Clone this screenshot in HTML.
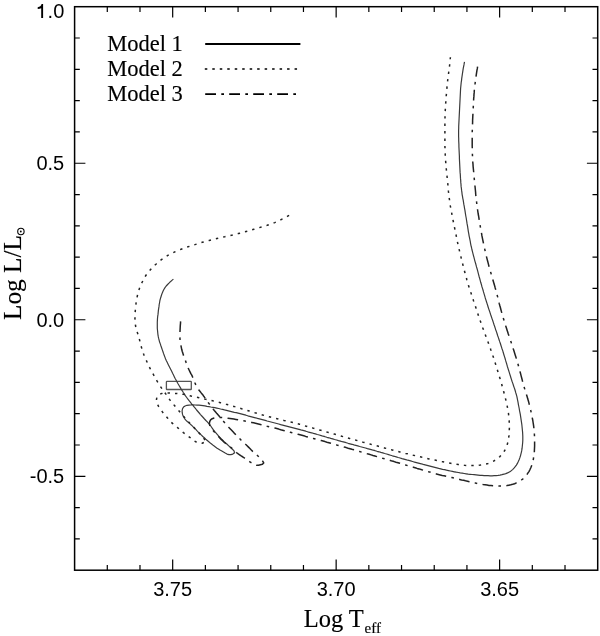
<!DOCTYPE html>
<html><head><meta charset="utf-8"><style>
html,body{margin:0;padding:0;background:#fff;}
body{width:600px;height:636px;overflow:hidden;position:relative;}
svg{position:absolute;left:0;top:0;filter:grayscale(1);}
.tl{font-family:"Liberation Sans",sans-serif;font-size:20px;fill:#000;}
.sf{font-family:"Liberation Serif",serif;fill:#000;stroke:#000;stroke-width:0.15px;}
</style></head><body>
<svg width="600" height="636" viewBox="0 0 600 636">
<g fill="none" stroke="#000" stroke-width="1.2">
<path d="M107.29 570.20 V565.00 M107.29 6.70 V11.90 M139.99 570.20 V565.00 M139.99 6.70 V11.90 M172.68 570.20 V559.40 M172.68 6.70 V17.50 M205.38 570.20 V565.00 M205.38 6.70 V11.90 M238.07 570.20 V565.00 M238.07 6.70 V11.90 M270.76 570.20 V565.00 M270.76 6.70 V11.90 M303.46 570.20 V565.00 M303.46 6.70 V11.90 M336.15 570.20 V559.40 M336.15 6.70 V17.50 M368.84 570.20 V565.00 M368.84 6.70 V11.90 M401.54 570.20 V565.00 M401.54 6.70 V11.90 M434.23 570.20 V565.00 M434.23 6.70 V11.90 M466.93 570.20 V565.00 M466.93 6.70 V11.90 M499.62 570.20 V559.40 M499.62 6.70 V17.50 M532.31 570.20 V565.00 M532.31 6.70 V11.90 M565.01 570.20 V565.00 M565.01 6.70 V11.90 M74.60 38.01 H79.80 M597.70 38.01 H592.50 M74.60 69.31 H79.80 M597.70 69.31 H592.50 M74.60 100.62 H79.80 M597.70 100.62 H592.50 M74.60 131.92 H79.80 M597.70 131.92 H592.50 M74.60 163.23 H85.40 M597.70 163.23 H586.90 M74.60 194.53 H79.80 M597.70 194.53 H592.50 M74.60 225.84 H79.80 M597.70 225.84 H592.50 M74.60 257.14 H79.80 M597.70 257.14 H592.50 M74.60 288.45 H79.80 M597.70 288.45 H592.50 M74.60 319.76 H85.40 M597.70 319.76 H586.90 M74.60 351.06 H79.80 M597.70 351.06 H592.50 M74.60 382.37 H79.80 M597.70 382.37 H592.50 M74.60 413.67 H79.80 M597.70 413.67 H592.50 M74.60 444.98 H79.80 M597.70 444.98 H592.50 M74.60 476.28 H85.40 M597.70 476.28 H586.90 M74.60 507.59 H79.80 M597.70 507.59 H592.50 M74.60 538.89 H79.80 M597.70 538.89 H592.50"/>
</g>
<rect x="74.60" y="6.70" width="523.10" height="563.50" fill="none" stroke="#000" stroke-width="1.5"/>
<g class="tl" text-anchor="end">
<text x="64.3" y="18.3">.0</text>
<text x="64.2" y="169.6">0.5</text>
<text x="64.2" y="326.5">0.0</text>
<text x="64.2" y="483.2">-0.5</text>
</g>
<path d="M37.7 7.2 C39.8 6.9 41.2 6.1 41.6 4.1 L43.1 4.1 L43.1 18.1 L41.2 18.1 L41.2 8.3 C40.3 8.8 39.1 9 37.7 9 Z" fill="#000"/>
<g class="tl" text-anchor="middle">
<text x="172.6" y="595.8">3.75</text>
<text x="336.1" y="595.8">3.70</text>
<text x="499.6" y="595.8">3.65</text>
</g>
<text class="sf" font-size="24.5" x="303.7" y="626.7">Log T</text><text class="sf" font-size="15" x="364.6" y="632.5">eff</text>
<g transform="translate(21,320) rotate(-90)">
<text class="sf" font-size="25.3" x="0" y="0">Log L/L</text>
</g>
<circle cx="20.9" cy="231.5" r="3.2" fill="none" stroke="#000" stroke-width="1.1"/><circle cx="20.8" cy="231.5" r="0.9" fill="#000"/>
<g transform="translate(107.2,50.5) scale(1,1.03)"><text class="sf" font-size="22.5" x="0" y="0">Model 1</text></g>
<g transform="translate(107.2,75.5) scale(1,1.03)"><text class="sf" font-size="22.5" x="0" y="0">Model 2</text></g>
<g transform="translate(107.2,100.6) scale(1,1.03)"><text class="sf" font-size="22.5" x="0" y="0">Model 3</text></g>
<g fill="none" stroke="#000" stroke-width="1.6">
<path d="M205.2 44 H300.4" stroke-width="1.85"/>
<path d="M204.8 69 H297.1" stroke-dasharray="2.5 4.98"/>
<path d="M205.2 94.1 H297" stroke-dasharray="10.8 5.3 2.7 5.2"/>
</g>
<rect x="166.4" y="381.4" width="24.9" height="8.1" rx="0.6" fill="none" stroke="#555" stroke-width="1.3"/>
<g fill="none" stroke="#222" stroke-width="1.2" stroke-linejoin="round">
<path d="M173.4 279.1L171.9 280.4 170.4 281.7 169.0 283.1 167.6 284.5 166.2 286.0 165.0 287.6 164.0 289.3 163.1 291.1 162.3 292.9 161.6 294.8 161.0 296.7 160.4 298.6 159.9 300.5 159.6 302.5 159.2 304.5 159.0 306.4 158.7 308.4 158.4 310.4 158.2 312.4 158.0 314.4 157.7 316.3 157.5 318.3 157.4 320.3 157.3 322.3 157.3 324.3 157.3 326.3 157.3 328.3 157.5 330.3 157.7 332.3 157.9 334.3 158.2 336.2 158.6 338.2 159.1 340.1 159.6 342.0 160.3 343.9 160.9 345.8 161.6 347.7 162.2 349.6 162.9 351.5 163.5 353.4 164.2 355.3 164.9 357.1 165.6 359.0 166.4 360.8 167.3 362.6 168.2 364.4 169.1 366.2 170.0 368.0 170.9 369.8 171.8 371.6 172.6 373.3 173.5 375.1 174.4 376.9 175.3 378.7 176.3 380.5 177.2 382.2 178.2 384.0 179.2 385.7 180.2 387.4 181.2 389.1 182.3 390.8 183.3 392.5 184.4 394.2 185.5 395.9 186.7 397.5 187.9 399.1 189.1 400.7 190.3 402.2 191.6 403.8 192.9 405.3 194.1 406.9 195.4 408.4 196.6 410.0 197.9 411.5 199.2 413.0 200.5 414.6 201.8 416.0 203.2 417.5 204.5 419.0 205.9 420.5 207.3 421.9 208.6 423.4 209.9 424.9 211.1 426.5 212.2 428.2 213.4 429.8 214.6 431.4 215.9 432.9 217.2 434.4 218.5 435.9 219.9 437.3 221.3 438.8 222.7 440.2 224.1 441.6 225.6 442.9 227.1 444.3 228.5 445.6 230.0 447.0 231.5 448.4 232.9 449.7 234.2 451.2 234.4 452.9 232.8 454.1 230.9 454.6 228.9 454.6 227.0 454.1 225.2 453.1 223.5 452.1 221.8 451.1 220.0 450.1 218.4 449.0 216.7 447.9 215.1 446.7 213.5 445.6 211.9 444.3 210.3 443.1 208.8 441.8 207.3 440.5 205.8 439.2 204.3 437.8 202.8 436.5 201.4 435.1 199.9 433.7 198.5 432.3 197.1 430.9 195.8 429.4 194.4 428.0 192.9 426.6 191.5 425.2 190.0 423.9 188.5 422.6 187.0 421.3 185.6 419.8 184.4 418.3 183.4 416.5 182.6 414.7 182.2 412.7 182.1 410.8 182.5 408.8 183.5 407.1 185.1 406.0 187.0 405.3 189.0 405.1 191.0 405.0 193.0 404.9 195.0 405.0 197.0 405.1 199.0 405.2 201.0 405.4 203.0 405.6 204.9 405.9 206.9 406.3 208.9 406.6 210.8 407.0 212.8 407.3 214.8 407.7 216.7 408.1 218.7 408.5 220.6 409.0 222.6 409.4 224.5 409.9 226.5 410.3 228.4 410.8 230.4 411.3 232.3 411.8 234.3 412.3 236.2 412.7 238.1 413.2 240.1 413.7 242.0 414.2 243.9 414.7 245.9 415.2 247.8 415.8 249.7 416.3 251.7 416.8 253.6 417.3 255.5 417.8 257.5 418.4 259.4 418.9 261.3 419.4 263.3 419.9 265.2 420.4 267.1 421.0 269.1 421.5 271.0 422.0 272.9 422.5 274.9 423.0 276.8 423.5 278.7 424.0 280.7 424.6 282.6 425.1 284.5 425.6 286.5 426.1 288.4 426.6 290.3 427.1 292.3 427.6 294.2 428.1 296.1 428.6 298.1 429.1 300.0 429.6 301.9 430.2 303.9 430.7 305.8 431.2 307.7 431.8 309.6 432.3 311.6 432.8 313.5 433.4 315.4 433.9 317.3 434.5 319.3 435.0 321.2 435.6 323.1 436.2 325.0 436.7 326.9 437.3 328.9 437.8 330.8 438.4 332.7 438.9 334.6 439.5 336.6 440.0 338.5 440.6 340.4 441.1 342.3 441.7 344.3 442.2 346.2 442.7 348.1 443.3 350.0 443.8 352.0 444.3 353.9 444.9 355.8 445.4 357.8 445.9 359.7 446.5 361.6 447.0 363.5 447.5 365.5 448.0 367.4 448.6 369.3 449.1 371.3 449.6 373.2 450.2 375.1 450.7 377.0 451.3 379.0 451.8 380.9 452.4 382.8 452.9 384.7 453.5 386.6 454.0 388.6 454.6 390.5 455.2 392.4 455.8 394.3 456.3 396.2 456.9 398.2 457.5 400.1 458.0 402.0 458.6 403.9 459.1 405.8 459.6 407.8 460.2 409.7 460.7 411.6 461.2 413.6 461.8 415.5 462.3 417.4 462.8 419.4 463.3 421.3 463.8 423.2 464.4 425.1 464.9 427.1 465.4 429.0 465.9 430.9 466.4 432.9 466.9 434.8 467.4 436.8 467.9 438.7 468.4 440.7 468.8 442.6 469.3 444.6 469.7 446.5 470.2 448.5 470.6 450.4 471.0 452.4 471.4 454.3 471.8 456.3 472.2 458.3 472.5 460.2 472.9 462.2 473.2 464.2 473.5 466.2 473.8 468.2 474.1 470.1 474.3 472.1 474.5 474.1 474.7 476.1 474.9 478.1 475.1 480.1 475.3 482.1 475.4 484.1 475.6 486.1 475.7 488.1 475.7 490.1 475.8 492.1 475.8 494.1 475.7 496.1 475.6 498.0 475.4 500.0 475.1 502.0 474.7 503.9 474.2 505.8 473.6 507.6 472.9 509.4 472.0 511.0 470.9 512.6 469.6 514.0 468.2 515.2 466.7 516.4 465.1 517.4 463.4 518.3 461.6 519.1 459.8 519.8 457.9 520.4 456.0 520.9 454.1 521.4 452.1 521.8 450.2 522.1 448.2 522.3 446.2 522.5 444.2 522.7 442.2 522.8 440.2 522.8 438.2 522.8 436.2 522.7 434.2 522.6 432.3 522.4 430.3 522.2 428.3 522.0 426.3 521.8 424.3 521.5 422.3 521.2 420.3 520.9 418.4 520.6 416.4 520.3 414.4 519.9 412.4 519.5 410.5 519.2 408.5 518.8 406.5 518.4 404.6 518.1 402.6 517.7 400.6 517.3 398.7 516.9 396.7 516.4 394.8 515.8 392.9 515.3 391.0 514.7 389.0 514.0 387.1 513.4 385.2 512.8 383.4 512.1 381.5 511.5 379.6 510.9 377.7 510.3 375.8 509.7 373.9 509.1 371.9 508.5 370.0 507.9 368.1 507.3 366.2 506.8 364.3 506.2 362.4 505.6 360.4 505.1 358.5 504.5 356.6 503.9 354.7 503.3 352.8 502.8 350.9 502.1 349.0 501.5 347.1 500.9 345.2 500.3 343.3 499.6 341.4 499.0 339.5 498.4 337.6 497.7 335.7 497.1 333.8 496.5 331.9 495.8 330.0 495.2 328.1 494.6 326.2 493.9 324.3 493.3 322.4 492.7 320.5 492.0 318.6 491.4 316.7 490.7 314.8 490.1 312.9 489.5 311.0 488.8 309.1 488.2 307.2 487.6 305.3 487.0 303.4 486.4 301.5 485.8 299.6 485.2 297.7 484.7 295.8 484.1 293.8 483.5 291.9 483.0 290.0 482.4 288.1 481.8 286.2 481.3 284.2 480.7 282.3 480.2 280.4 479.7 278.5 479.1 276.5 478.6 274.6 478.1 272.7 477.6 270.7 477.1 268.8 476.5 266.9 476.0 264.9 475.5 263.0 474.9 261.1 474.4 259.2 473.9 257.2 473.4 255.3 472.9 253.4 472.4 251.4 471.9 249.5 471.5 247.5 471.0 245.6 470.6 243.6 470.3 241.6 469.9 239.7 469.5 237.7 469.1 235.8 468.8 233.8 468.4 231.8 468.1 229.8 467.8 227.9 467.5 225.9 467.1 223.9 466.8 221.9 466.5 220.0 466.2 218.0 465.8 216.0 465.5 214.1 465.2 212.1 464.9 210.1 464.5 208.1 464.2 206.2 463.8 204.2 463.5 202.2 463.2 200.2 462.8 198.3 462.5 196.3 462.1 194.3 461.9 192.4 461.6 190.4 461.4 188.4 461.1 186.4 461.0 184.4 460.8 182.4 460.7 180.4 460.5 178.4 460.4 176.4 460.3 174.4 460.1 172.4 460.0 170.4 459.9 168.4 459.8 166.4 459.7 164.4 459.6 162.4 459.5 160.4 459.4 158.5 459.4 156.5 459.3 154.5 459.2 152.5 459.1 150.5 459.0 148.5 458.9 146.5 458.9 144.5 458.8 142.5 458.7 140.5 458.7 138.5 458.6 136.5 458.6 134.5 458.6 132.5 458.6 130.5 458.7 128.5 458.7 126.5 458.8 124.5 458.9 122.5 459.0 120.5 459.1 118.5 459.2 116.5 459.3 114.5 459.4 112.5 459.5 110.5 459.6 108.5 459.7 106.5 459.8 104.5 459.9 102.5 460.0 100.5 460.1 98.5 460.2 96.5 460.3 94.5 460.4 92.5 460.5 90.5 460.6 88.5 460.8 86.5 461.0 84.5 461.2 82.5 461.5 80.6 461.7 78.6 462.0 76.6 462.3 74.6 462.6 72.6 462.9 70.7 463.2 68.7 463.6 66.7 464.0 64.7 464.3 62.8 464.5 61.8" stroke="#3a3a3a"/>
<path d="M289.1 215.4L287.3 216.4 285.5 217.4 283.8 218.3 282.0 219.2 280.2 220.1 278.4 221.0 276.6 221.8 274.7 222.6 272.9 223.3 271.0 224.0 269.1 224.6 267.2 225.3 265.3 225.8 263.4 226.4 261.4 227.0 259.5 227.6 257.6 228.1 255.7 228.7 253.8 229.3 251.9 229.9 249.9 230.4 248.0 231.0 246.1 231.5 244.1 232.0 242.2 232.6 240.3 233.1 238.3 233.6 236.4 234.1 234.5 234.5 232.5 235.0 230.5 235.4 228.6 235.8 226.6 236.2 224.7 236.7 222.7 237.1 220.8 237.6 218.8 238.0 216.9 238.5 214.9 239.0 213.0 239.5 211.0 240.0 209.1 240.5 207.2 241.0 205.2 241.5 203.3 242.1 201.4 242.6 199.5 243.2 197.6 243.8 195.7 244.4 193.8 245.0 191.8 245.6 189.9 246.2 188.0 246.8 186.1 247.5 184.2 248.1 182.4 248.8 180.5 249.5 178.6 250.3 176.8 251.0 174.9 251.8 173.1 252.7 171.3 253.5 169.5 254.4 167.8 255.4 166.1 256.5 164.4 257.5 162.8 258.7 161.1 259.9 159.6 261.1 158.0 262.3 156.5 263.7 155.0 265.0 153.6 266.4 152.2 267.8 150.8 269.3 149.5 270.8 148.2 272.3 147.0 273.9 145.8 275.5 144.8 277.2 143.8 279.0 142.9 280.7 142.0 282.5 141.1 284.3 140.3 286.2 139.6 288.0 138.9 289.9 138.3 291.8 137.8 293.7 137.4 295.7 137.0 297.7 136.6 299.6 136.3 301.6 136.0 303.6 135.8 305.6 135.6 307.6 135.4 309.6 135.2 311.6 135.1 313.6 135.0 315.6 135.0 317.6 134.9 319.6 135.0 321.5 135.2 323.5 135.5 325.5 135.9 327.5 136.4 329.4 137.0 331.3 137.6 333.2 138.2 335.1 138.8 337.0 139.3 339.0 139.8 340.9 140.3 342.8 140.8 344.8 141.3 346.7 141.8 348.6 142.4 350.6 143.0 352.5 143.7 354.3 144.5 356.2 145.3 358.0 146.1 359.9 146.9 361.7 147.7 363.5 148.5 365.3 149.4 367.2 150.3 368.9 151.2 370.7 152.2 372.5 153.2 374.2 154.2 375.9 155.2 377.7 156.1 379.4 157.1 381.2 158.2 382.9 159.2 384.6 160.3 386.3 161.4 387.9 162.6 389.6 163.7 391.2 164.9 392.8 166.1 394.4 167.2 396.1 168.3 397.7 169.5 399.4 170.7 400.9 172.0 402.5 173.3 404.0 174.5 405.6 175.8 407.1 177.1 408.7 178.4 410.2 179.7 411.7 180.9 413.3 182.2 414.8 183.5 416.3 184.9 417.8 186.2 419.3 187.6 420.8 188.9 422.2 190.3 423.7 191.7 425.2 193.0 426.6 194.4 428.1 195.8 429.6 197.1 431.0 198.5 432.5 199.9 433.9 201.2 435.4 202.6 436.9 203.8 438.4 205.0 440.1 205.2 441.0" stroke-dasharray="2.4 5.077" stroke-dashoffset="0" stroke-width="1.5"/>
<path d="M205.2 441.0L203.9 442.5 202.1 443.3 200.1 443.2 198.2 442.7 196.3 442.0 194.5 441.1 192.9 439.9 191.4 438.6 189.8 437.4 188.2 436.2 186.6 435.0 185.0 433.8 183.4 432.6 181.9 431.3 180.4 430.0 178.8 428.7 177.3 427.4 175.7 426.2 174.2 425.0 172.7 423.6 171.2 422.2 169.9 420.8 168.6 419.3 167.3 417.7 166.0 416.2 164.7 414.7 163.4 413.2 162.2 411.6 160.9 410.0 159.7 408.4 158.7 406.7 157.8 404.9 157.1 403.0 156.6 401.1 156.5 399.1 157.0 397.2 158.0 395.5 159.6 394.3 161.5 393.6 163.4 393.2 165.4 393.1 167.4 393.0 169.4 393.0 171.4 393.1 173.4 393.3 175.4 393.4 177.4 393.6 179.4 393.8 181.4 394.0 183.4 394.3 185.3 394.7 187.3 395.1 189.2 395.6 191.1 396.1 193.1 396.5 195.1 396.9 197.0 397.3 199.0 397.7 200.9 398.2 202.9 398.6 204.8 399.1 206.8 399.5 208.7 399.9 210.7 400.4 212.6 400.8 214.6 401.3 216.5 401.8 218.5 402.2 220.4 402.7 222.3 403.2 224.3 403.7 226.2 404.3 228.1 404.8 230.1 405.3 232.0 405.9 233.9 406.4 235.8 407.0 237.8 407.5 239.7 408.1 241.6 408.7 243.5 409.2 245.4 409.8 247.3 410.4 249.2 411.0 251.2 411.6 253.1 412.2 255.0 412.8 256.9 413.3 258.8 413.9 260.7 414.4 262.7 415.0 264.6 415.5 266.5 416.1 268.5 416.6 270.4 417.1 272.3 417.6 274.3 418.0 276.2 418.5 278.2 419.0 280.1 419.5 282.1 419.9 284.0 420.4 286.0 420.8 287.9 421.3 289.8 421.8 291.8 422.2 293.7 422.7 295.7 423.2 297.6 423.7 299.5 424.2 301.5 424.8 303.4 425.3 305.3 425.9 307.2 426.4 309.1 427.0 311.1 427.5 313.0 428.1 314.9 428.7 316.8 429.2 318.8 429.8 320.7 430.3 322.6 430.8 324.5 431.4 326.5 431.9 328.4 432.5 330.3 433.0 332.2 433.6 334.2 434.1 336.1 434.6 338.0 435.2 339.9 435.7 341.9 436.3 343.8 436.8 345.7 437.3 347.7 437.9 349.6 438.4 351.5 439.0 353.4 439.5 355.4 440.0 357.3 440.6 359.2 441.1 361.1 441.6 363.1 442.2 365.0 442.7 366.9 443.2 368.9 443.7 370.8 444.3 372.7 444.8 374.7 445.3 376.6 445.8 378.5 446.3 380.5 446.8 382.4 447.4 384.3 447.9 386.3 448.4 388.2 448.9 390.1 449.4 392.1 449.9 394.0 450.4 396.0 450.9 397.9 451.4 399.8 451.9 401.8 452.4 403.7 452.9 405.6 453.4 407.6 453.8 409.5 454.3 411.5 454.8 413.4 455.3 415.4 455.7 417.3 456.2 419.3 456.7 421.2 457.1 423.2 457.6 425.1 458.0 427.1 458.4 429.0 458.9 431.0 459.3 432.9 459.7 434.9 460.1 436.8 460.5 438.8 461.0 440.8 461.4 442.7 461.8 444.7 462.2 446.6 462.5 448.6 462.9 450.6 463.3 452.5 463.7 454.5 464.0 456.5 464.3 458.5 464.6 460.4 464.9 462.4 465.1 464.4 465.3 466.4 465.4 468.4 465.5 470.4 465.6 472.4 465.6 474.4 465.5 476.4 465.4 478.4 465.3 480.3 465.1 482.3 464.8 484.3 464.5 486.2 464.0 488.1 463.5 489.9 462.8 491.8 462.1 493.5 461.2 495.2 460.2 496.8 459.1 498.4 457.9 499.9 456.6 501.2 455.2 502.5 453.7 503.6 452.2 504.7 450.5 505.6 448.8 506.4 447.0 507.1 445.1 507.6 443.2 508.1 441.3 508.5 439.4 508.7 437.4 509.0 435.4 509.1 433.4 509.3 431.5 509.3 429.5 509.4 427.5 509.4 425.5 509.3 423.5 509.2 421.5 509.1 419.5 508.9 417.5 508.7 415.5 508.5 413.5 508.2 411.5 507.8 409.6 507.5 407.6 507.1 405.6 506.7 403.7 506.2 401.7 505.8 399.8 505.3 397.9 504.8 395.9 504.3 394.0 503.8 392.0 503.3 390.1 502.7 388.2 502.2 386.3 501.7 384.3 501.1 382.4 500.6 380.5 500.0 378.6 499.4 376.6 498.8 374.7 498.3 372.8 497.7 370.9 497.1 369.0 496.5 367.1 495.9 365.2 495.3 363.3 494.7 361.4 494.1 359.4 493.5 357.5 492.8 355.6 492.2 353.7 491.6 351.8 490.9 350.0 490.3 348.1 489.6 346.2 488.9 344.3 488.2 342.4 487.5 340.5 486.8 338.7 486.1 336.8 485.4 334.9 484.7 333.1 484.0 331.2 483.3 329.3 482.6 327.5 481.9 325.6 481.2 323.7 480.6 321.8 479.9 319.9 479.3 318.0 478.6 316.1 478.0 314.2 477.4 312.3 476.7 310.4 476.1 308.5 475.5 306.6 474.9 304.7 474.3 302.8 473.6 300.9 473.0 299.0 472.4 297.1 471.7 295.2 471.1 293.3 470.4 291.4 469.8 289.5 469.2 287.6 468.6 285.7 468.0 283.8 467.5 281.9 466.9 280.0 466.4 278.0 465.8 276.1 465.3 274.2 464.8 272.2 464.3 270.3 463.8 268.4 463.3 266.4 462.8 264.5 462.3 262.6 461.8 260.6 461.3 258.7 460.9 256.7 460.4 254.8 459.9 252.8 459.5 250.9 459.0 248.9 458.6 247.0 458.1 245.0 457.7 243.1 457.3 241.1 456.9 239.2 456.5 237.2 456.1 235.2 455.7 233.3 455.3 231.3 454.9 229.4 454.5 227.4 454.1 225.4 453.7 223.5 453.3 221.5 452.9 219.6 452.5 217.6 452.1 215.6 451.8 213.7 451.4 211.7 451.0 209.7 450.7 207.8 450.3 205.8 450.0 203.8 449.7 201.8 449.5 199.9 449.2 197.9 449.0 195.9 448.8 193.9 448.5 191.9 448.3 189.9 448.2 187.9 448.0 185.9 447.8 183.9 447.6 182.0 447.4 180.0 447.2 178.0 447.0 176.0 446.8 174.0 446.6 172.0 446.4 170.0 446.2 168.0 446.0 166.0 445.9 164.0 445.7 162.0 445.6 160.0 445.4 158.0 445.3 156.0 445.2 154.1 445.1 152.1 445.1 150.1 445.0 148.1 444.9 146.1 444.9 144.1 444.9 142.1 444.9 140.1 444.9 138.1 444.9 136.1 444.9 134.1 444.9 132.1 444.9 130.0 444.9 128.0 444.9 126.0 444.9 124.0 444.9 122.0 444.9 120.0 445.0 118.0 445.0 116.0 445.1 114.0 445.2 112.1 445.3 110.1 445.4 108.1 445.5 106.1 445.6 104.1 445.8 102.1 445.9 100.1 446.0 98.1 446.2 96.1 446.4 94.1 446.5 92.1 446.7 90.1 446.9 88.1 447.1 86.1 447.3 84.1 447.5 82.1 447.7 80.2 448.0 78.2 448.2 76.2 448.5 74.2 448.7 72.2 449.0 70.2 449.2 68.2 449.5 66.3 449.7 64.3 449.9 62.3 450.1 60.3 450.3 58.3 450.4 57.3" stroke-dasharray="2.4 5.05" stroke-dashoffset="5.40" stroke-width="1.5"/>
<path d="M180.6 321.4L180.5 323.4 180.3 325.4 180.2 327.4 180.1 329.4 180.0 331.4 179.9 333.4 179.9 335.4 179.9 337.4 180.0 339.4 180.2 341.4 180.5 343.4 180.9 345.4 181.3 347.3 181.7 349.3 182.2 351.2 182.8 353.1 183.4 355.1 184.1 356.9 184.8 358.8 185.5 360.7 186.1 362.6 186.8 364.5 187.5 366.4 188.2 368.2 189.1 370.0 190.0 371.8 190.9 373.6 191.9 375.4 192.7 377.2 193.5 379.0 194.2 380.9 194.9 382.7 195.7 384.6 196.6 386.4 197.6 388.1 198.7 389.8 199.9 391.3 201.2 392.9 202.5 394.4 203.6 396.0 204.8 397.6 205.8 399.3 207.0 400.9 208.2 402.5 209.4 404.1 210.6 405.7 211.8 407.3 213.0 408.9 214.3 410.5 215.6 412.0 216.9 413.6 218.2 415.1 219.5 416.6 220.8 418.1 222.1 419.7 223.4 421.2 224.7 422.7 226.0 424.2 227.4 425.7 228.7 427.2 230.1 428.7 231.4 430.1 232.8 431.6 234.2 433.1 235.6 434.5 237.0 435.9 238.4 437.4 239.8 438.8 241.2 440.2 242.7 441.5 244.2 442.9 245.6 444.3 247.1 445.7 248.5 447.1 249.9 448.5 251.3 450.0 252.7 451.4 254.2 452.7 255.7 454.0 257.2 455.3 258.7 456.7 260.0 458.2 261.3 459.7 262.7 461.2 263.7 462.9 262.4 464.3 260.4 464.7 258.5 465.2 256.5 465.3 254.6 464.7 252.9 463.7 251.2 462.7 249.5 461.6 247.8 460.5 246.2 459.3 244.6 458.2 242.9 457.0 241.2 455.9 239.6 454.8 237.9 453.7 236.3 452.5 234.8 451.2 233.4 449.8 232.0 448.4 230.4 447.1 228.8 445.9 227.2 444.7 225.6 443.5 224.1 442.2 222.6 440.8 221.2 439.4 219.8 437.9 218.5 436.5 217.1 435.0 215.7 433.6 214.4 432.1 213.1 430.6 211.9 429.0 210.8 427.3 209.8 425.6 209.4 423.6 209.7 421.6 210.6 419.9 212.2 418.7 214.1 418.0 216.0 417.6 218.0 417.5 220.0 417.5 222.0 417.5 224.0 417.7 226.0 418.0 228.0 418.2 230.0 418.5 232.0 418.8 233.9 419.1 235.9 419.4 237.9 419.7 239.8 420.1 241.8 420.4 243.8 420.8 245.7 421.2 247.7 421.6 249.7 422.0 251.6 422.4 253.6 422.8 255.5 423.3 257.4 423.8 259.4 424.3 261.3 424.8 263.2 425.3 265.2 425.8 267.1 426.3 269.0 426.7 271.0 427.2 272.9 427.7 274.9 428.1 276.8 428.6 278.7 429.1 280.7 429.7 282.6 430.2 284.5 430.7 286.4 431.3 288.4 431.8 290.3 432.3 292.2 432.8 294.2 433.3 296.1 433.8 298.0 434.3 300.0 434.8 301.9 435.3 303.8 435.8 305.7 436.4 307.7 436.9 309.6 437.4 311.5 438.0 313.4 438.5 315.4 439.0 317.3 439.5 319.2 440.1 321.2 440.6 323.1 441.1 325.0 441.6 326.9 442.2 328.9 442.7 330.8 443.3 332.7 443.8 334.6 444.3 336.6 444.9 338.5 445.4 340.4 446.0 342.3 446.5 344.2 447.1 346.2 447.6 348.1 448.2 350.0 448.7 351.9 449.3 353.8 449.8 355.8 450.4 357.7 451.0 359.6 451.5 361.5 452.1 363.4 452.6 365.4 453.2 367.3 453.8 369.2 454.3 371.1 454.9 373.0 455.5 374.9 456.0 376.9 456.6 378.8 457.1 380.7 457.7 382.6 458.3 384.5 458.8 386.5 459.4 388.4 459.9 390.3 460.5 392.2 461.1 394.1 461.6 396.0 462.2 398.0 462.7 399.9 463.3 401.8 463.9 403.7 464.4 405.6 465.0 407.6 465.6 409.5 466.1 411.4 466.7 413.3 467.2 415.2 467.8 417.1 468.4 419.1 468.9 421.0 469.5 422.9 470.1 424.8 470.7 426.7 471.2 428.6 471.8 430.6 472.3 432.5 472.9 434.4 473.4 436.4 473.9 438.3 474.4 440.2 474.9 442.2 475.4 444.1 475.8 446.1 476.3 448.0 476.7 450.0 477.2 451.9 477.6 453.8 478.1 455.8 478.5 457.7 478.9 459.7 479.4 461.6 479.9 463.6 480.3 465.5 480.8 467.5 481.2 469.4 481.7 471.4 482.1 473.3 482.6 475.3 483.0 477.2 483.4 479.2 483.8 481.2 484.1 483.1 484.5 485.1 484.8 487.1 485.1 489.0 485.4 491.0 485.6 493.0 485.8 495.0 485.9 497.0 486.0 499.0 486.1 501.0 486.0 503.0 486.0 504.9 485.8 506.9 485.6 508.9 485.2 510.8 484.8 512.7 484.3 514.6 483.7 516.4 482.9 518.1 482.1 519.8 481.1 521.4 480.0 523.0 478.8 524.4 477.5 525.7 476.1 526.9 474.6 528.0 472.9 529.1 471.3 530.0 469.5 530.8 467.7 531.5 465.9 532.2 464.0 532.7 462.1 533.2 460.2 533.5 458.2 533.8 456.3 534.1 454.3 534.3 452.3 534.4 450.3 534.5 448.3 534.6 446.3 534.6 444.3 534.6 442.3 534.6 440.3 534.6 438.3 534.5 436.4 534.4 434.4 534.3 432.4 534.1 430.4 533.9 428.4 533.7 426.4 533.4 424.4 533.1 422.5 532.8 420.5 532.4 418.5 532.0 416.6 531.6 414.6 531.2 412.7 530.8 410.7 530.3 408.8 529.9 406.8 529.4 404.9 528.9 402.9 528.4 401.0 527.8 399.1 527.3 397.2 526.7 395.3 526.1 393.4 525.5 391.5 524.9 389.6 524.3 387.6 523.8 385.7 523.2 383.8 522.7 381.9 522.2 379.9 521.7 378.0 521.2 376.1 520.7 374.1 520.2 372.2 519.7 370.3 519.2 368.3 518.6 366.4 518.1 364.5 517.5 362.6 517.0 360.7 516.4 358.8 515.8 356.8 515.2 354.9 514.6 353.0 514.0 351.1 513.4 349.2 512.8 347.3 512.1 345.4 511.5 343.5 510.9 341.6 510.2 339.7 509.6 337.8 509.0 335.9 508.3 334.0 507.7 332.1 507.1 330.2 506.5 328.3 505.9 326.4 505.3 324.5 504.7 322.6 504.1 320.7 503.5 318.8 502.9 316.9 502.4 315.0 501.8 313.0 501.3 311.1 500.8 309.2 500.3 307.3 499.7 305.3 499.2 303.4 498.8 301.5 498.3 299.5 497.8 297.6 497.3 295.6 496.8 293.7 496.3 291.8 495.8 289.8 495.2 287.9 494.7 286.0 494.1 284.1 493.6 282.2 493.0 280.2 492.4 278.3 491.9 276.4 491.3 274.5 490.8 272.6 490.2 270.7 489.7 268.7 489.1 266.8 488.6 264.9 488.1 262.9 487.6 261.0 487.1 259.1 486.6 257.1 486.1 255.2 485.7 253.3 485.2 251.3 484.8 249.4 484.3 247.4 483.9 245.4 483.5 243.5 483.1 241.5 482.7 239.6 482.3 237.6 481.9 235.7 481.6 233.7 481.2 231.7 480.9 229.8 480.5 227.8 480.2 225.8 479.8 223.9 479.5 221.9 479.2 219.9 478.9 217.9 478.6 216.0 478.2 214.0 477.9 212.0 477.6 210.0 477.4 208.1 477.1 206.1 476.8 204.1 476.6 202.1 476.3 200.1 476.1 198.1 475.9 196.2 475.7 194.2 475.6 192.2 475.4 190.2 475.2 188.2 475.0 186.2 474.8 184.2 474.6 182.2 474.4 180.2 474.2 178.2 474.0 176.3 473.9 174.3 473.7 172.3 473.5 170.3 473.3 168.3 473.1 166.3 473.0 164.3 472.8 162.3 472.7 160.3 472.6 158.3 472.5 156.3 472.4 154.3 472.4 152.3 472.3 150.3 472.3 148.3 472.2 146.3 472.2 144.4 472.2 142.4 472.2 140.4 472.2 138.4 472.2 136.4 472.2 134.4 472.2 132.4 472.3 130.4 472.4 128.4 472.4 126.4 472.5 124.4 472.6 122.4 472.6 120.4 472.7 118.4 472.8 116.4 472.9 114.4 473.0 112.4 473.1 110.4 473.2 108.4 473.3 106.4 473.4 104.4 473.5 102.4 473.6 100.4 473.7 98.4 473.9 96.4 474.0 94.4 474.2 92.4 474.3 90.5 474.5 88.5 474.8 86.5 475.0 84.5 475.2 82.5 475.5 80.5 475.7 78.5 476.0 76.6 476.3 74.6 476.6 72.6 476.9 70.6 477.3 68.7 477.6 66.7" stroke-dasharray="10.7 5.3 2.6 5.37" stroke-width="1.5"/>
</g>
</svg>
</body></html>
